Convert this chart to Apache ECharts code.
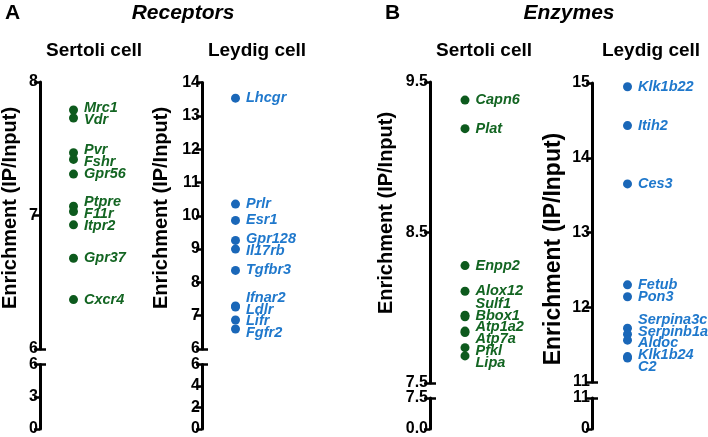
<!DOCTYPE html>
<html>
<head>
<meta charset="utf-8">
<script src="https://cdn.jsdelivr.net/npm/echarts@6/dist/echarts.min.js"></script>
<style>
  html, body { margin: 0; padding: 0; background: #fff; }
  #chart { width: 708px; height: 437px; }
</style>
</head>
<body>
<div id="chart"></div>
<script>
// ---------- data ----------
const sertoliReceptorCategory = ['Sertoli cell'];
const sertoliReceptorGenes = ['Mrc1', 'Vdr', 'Pvr', 'Fshr', 'Gpr56', 'Ptpre', 'F11r', 'Itpr2', 'Gpr37', 'Cxcr4'];
const sertoliReceptorValues = [7.79, 7.73, 7.47, 7.42, 7.31, 7.07, 7.03, 6.93, 6.68, 6.37];
const sertoliReceptorTicks = [6, 7, 8];
const sertoliReceptorLowTicks = [0, 3, 6];

const leydigReceptorCategory = ['Leydig cell'];
const leydigReceptorGenes = ['Lhcgr', 'Prlr', 'Esr1', 'Gpr128', 'Il17rb', 'Tgfbr3', 'Ifnar2', 'Ldlr', 'Lifr', 'Fgfr2'];
const leydigReceptorValues = [13.53, 10.35, 9.86, 9.26, 9.0, 8.36, 7.29, 7.26, 6.87, 6.6];
const leydigReceptorTicks = [6, 7, 8, 9, 10, 11, 12, 13, 14];
const leydigReceptorLowTicks = [0, 2, 4, 6];

const sertoliEnzymeCategory = ['Sertoli cell'];
const sertoliEnzymeGenes = ['Capn6', 'Plat', 'Enpp2', 'Alox12', 'Sulf1', 'Bbox1', 'Atp1a2', 'Atp7a', 'Pfkl', 'Lipa'];
const sertoliEnzymeValues = [9.38, 9.19, 8.28, 8.11, 7.95, 7.94, 7.845, 7.835, 7.735, 7.68];
const sertoliEnzymeTicks = [7.5, 8.5, 9.5];
const sertoliEnzymeLowTicks = [0, 7.5];

const leydigEnzymeCategory = ['Leydig cell'];
const leydigEnzymeGenes = ['Klk1b22', 'Itih2', 'Ces3', 'Fetub', 'Pon3', 'Serpina3c', 'Serpinb1a', 'Aldoc', 'Klk1b24', 'C2'];
const leydigEnzymeValues = [14.95, 14.43, 13.65, 12.30, 12.14, 11.72, 11.64, 11.56, 11.34, 11.32];
const leydigEnzymeTicks = [11, 12, 13, 14, 15];
const leydigEnzymeLowTicks = [0, 11];

// ---------- styling ----------
const FONT = "'Liberation Sans', Arial, Helvetica, sans-serif";
const GREEN_DOT = '#0d5a1d';
const GREEN_TXT = '#136522';
const BLUE_DOT = '#1a67b8';
const BLUE_TXT = '#1f78cc';
const LABEL_GAP = 11.8;

const panels = [
  { cat: sertoliReceptorCategory, genes: sertoliReceptorGenes, vals: sertoliReceptorValues,
    ticks: sertoliReceptorTicks, low: sertoliReceptorLowTicks, dot: GREEN_DOT, txt: GREEN_TXT,
    left: 40, width: 67, upTop: 82, upBottom: 349, lowTop: 364.5, lowBottom: 430.5, dec: 0 },
  { cat: leydigReceptorCategory, genes: leydigReceptorGenes, vals: leydigReceptorValues,
    ticks: leydigReceptorTicks, low: leydigReceptorLowTicks, dot: BLUE_DOT, txt: BLUE_TXT,
    left: 202, width: 67, upTop: 82.5, upBottom: 349, lowTop: 364.5, lowBottom: 430.5, dec: 0 },
  { cat: sertoliEnzymeCategory, genes: sertoliEnzymeGenes, vals: sertoliEnzymeValues,
    ticks: sertoliEnzymeTicks, low: sertoliEnzymeLowTicks, dot: GREEN_DOT, txt: GREEN_TXT,
    left: 430, width: 70, upTop: 82, upBottom: 383, lowTop: 398, lowBottom: 430.5, dec: 1 },
  { cat: leydigEnzymeCategory, genes: leydigEnzymeGenes, vals: leydigEnzymeValues,
    ticks: leydigEnzymeTicks, low: leydigEnzymeLowTicks, dot: BLUE_DOT, txt: BLUE_TXT,
    left: 592, width: 71, upTop: 83, upBottom: 382, lowTop: 398, lowBottom: 430.5, dec: 0 }
];

const grid = [], xAxis = [], yAxis = [], series = [];
const lineStyle = { color: '#000', width: 3 };
const tickStyle = { color: '#000', width: 2.5 };

panels.forEach((p, i) => {
  const fmt = v => p.dec ? Number(v).toFixed(p.dec) : String(v);
  const upMin = p.ticks[0], upMax = p.ticks[p.ticks.length - 1];
  const lowMin = p.low[0], lowMax = p.low[p.low.length - 1];
  const gUp = grid.length;
  grid.push({ left: p.left, width: p.width, top: p.upTop, height: p.upBottom - p.upTop });
  xAxis.push({ type: 'category', gridIndex: gUp, data: p.cat, show: false });
  const yUp = yAxis.length;
  yAxis.push({
    type: 'value', gridIndex: gUp, min: upMin, max: upMax, position: 'left', offset: 0,
    axisLine: { show: true, lineStyle: lineStyle },
    axisTick: { show: true, customValues: p.ticks, length: 6, lineStyle: tickStyle },
    axisLabel: { show: true, customValues: p.ticks, formatter: fmt, margin: 2,
      color: '#000', fontSize: 16, fontWeight: 'bold', fontFamily: FONT },
    splitLine: { show: false }
  });
  yAxis.push({
    type: 'value', gridIndex: gUp, min: upMin, max: upMax, position: 'left', offset: 0,
    axisLine: { show: false },
    axisTick: { show: true, inside: true, customValues: [upMin], length: 6, lineStyle: tickStyle },
    axisLabel: { show: false }, splitLine: { show: false }
  });
  const gLow = grid.length;
  grid.push({ left: p.left, width: p.width, top: p.lowTop, height: p.lowBottom - p.lowTop });
  xAxis.push({ type: 'category', gridIndex: gLow, data: p.cat, show: false });
  yAxis.push({
    type: 'value', gridIndex: gLow, min: lowMin, max: lowMax, position: 'left', offset: 0,
    axisLine: { show: true, lineStyle: lineStyle },
    axisTick: { show: true, customValues: p.low, length: 6, lineStyle: tickStyle },
    axisLabel: { show: true, customValues: p.low, formatter: fmt, margin: 2,
      color: '#000', fontSize: 16, fontWeight: 'bold', fontFamily: FONT },
    splitLine: { show: false }
  });
  yAxis.push({
    type: 'value', gridIndex: gLow, min: lowMin, max: lowMax, position: 'left', offset: 0,
    axisLine: { show: false },
    axisTick: { show: true, inside: true, customValues: [lowMax], length: 6, lineStyle: tickStyle },
    axisLabel: { show: false }, splitLine: { show: false }
  });
  series.push({
    type: 'scatter', xAxisIndex: gUp, yAxisIndex: yUp,
    data: p.genes.map((g, k) => ({ name: g, value: [p.cat[0], p.vals[k]] })),
    symbol: 'circle', symbolSize: 9,
    itemStyle: { color: p.dot, opacity: 1 },
    label: { show: true, position: 'right', distance: 6, formatter: '{b}',
      color: p.txt, fontSize: 14.5, fontWeight: 'bold', fontStyle: 'italic',
      fontFamily: FONT },
    emphasis: { disabled: true },
    silent: true
  });
});

function txt(x, y, text, size, opts) {
  return Object.assign({
    type: 'text', x: x, y: y, silent: true,
    style: Object.assign({ text: text, fontFamily: FONT, fontSize: size, fontWeight: 'bold',
      fill: '#000', align: 'center', verticalAlign: 'middle' }, opts && opts.style)
  }, opts && opts.el);
}

const graphic = [
  txt(5, 13, 'A', 21, { style: { align: 'left' } }),
  txt(183, 13, 'Receptors', 21, { style: { fontStyle: 'italic' } }),
  txt(385, 13, 'B', 21, { style: { align: 'left' } }),
  txt(569, 13, 'Enzymes', 21, { style: { fontStyle: 'italic' } }),
  txt(94, 51, 'Sertoli cell', 19),
  txt(257, 51, 'Leydig cell', 19),
  txt(484, 51, 'Sertoli cell', 19),
  txt(651, 51, 'Leydig cell', 19),
  txt(10, 208, 'Enrichment (IP/Input)', 20, { el: { rotation: Math.PI / 2 } }),
  txt(161, 208, 'Enrichment (IP/Input)', 20, { el: { rotation: Math.PI / 2 } }),
  txt(386, 213, 'Enrichment (IP/Input)', 20, { el: { rotation: Math.PI / 2 } }),
  txt(554, 249, 'Enrichment (IP/Input)', 23, { el: { rotation: Math.PI / 2 } })
];

const chart = echarts.init(document.getElementById('chart'), null, { renderer: 'canvas' });
chart.setOption({
  animation: false,
  backgroundColor: '#fff',
  textStyle: { fontFamily: FONT },
  grid: grid, xAxis: xAxis, yAxis: yAxis, series: series, graphic: graphic
});

// Spread overlapping gene labels vertically (clusters centred on their points)
function spread(ys, gap) {
  let clusters = ys.map((y, k) => ({ idx: [k], mean: y }));
  const place = c => c.idx.map((_, j) => c.mean - (c.idx.length - 1) / 2 * gap + j * gap);
  let changed = true;
  while (changed) {
    changed = false;
    for (let c = 0; c < clusters.length - 1; c++) {
      const a = clusters[c], b = clusters[c + 1];
      const pa = place(a), pb = place(b);
      if (pa[pa.length - 1] + gap > pb[0]) {
        const idx = a.idx.concat(b.idx);
        const mean = idx.reduce((s, k) => s + ys[k], 0) / idx.length;
        clusters.splice(c, 2, { idx: idx, mean: mean });
        changed = true;
        break;
      }
    }
  }
  const out = [];
  clusters.forEach(c => { const p = place(c); c.idx.forEach((k, j) => { out[k] = p[j]; }); });
  return out;
}

const newSeries = panels.map((p, i) => {
  const ys = p.vals.map(v => chart.convertToPixel({ seriesIndex: i }, [p.cat[0], v])[1]);
  const pos = spread(ys, LABEL_GAP);
  return {
    data: p.genes.map((g, k) => ({
      name: g, value: [p.cat[0], p.vals[k]],
      label: { offset: [0, pos[k] - ys[k]] }
    }))
  };
});
chart.setOption({ series: newSeries });
</script>
</body>
</html>
